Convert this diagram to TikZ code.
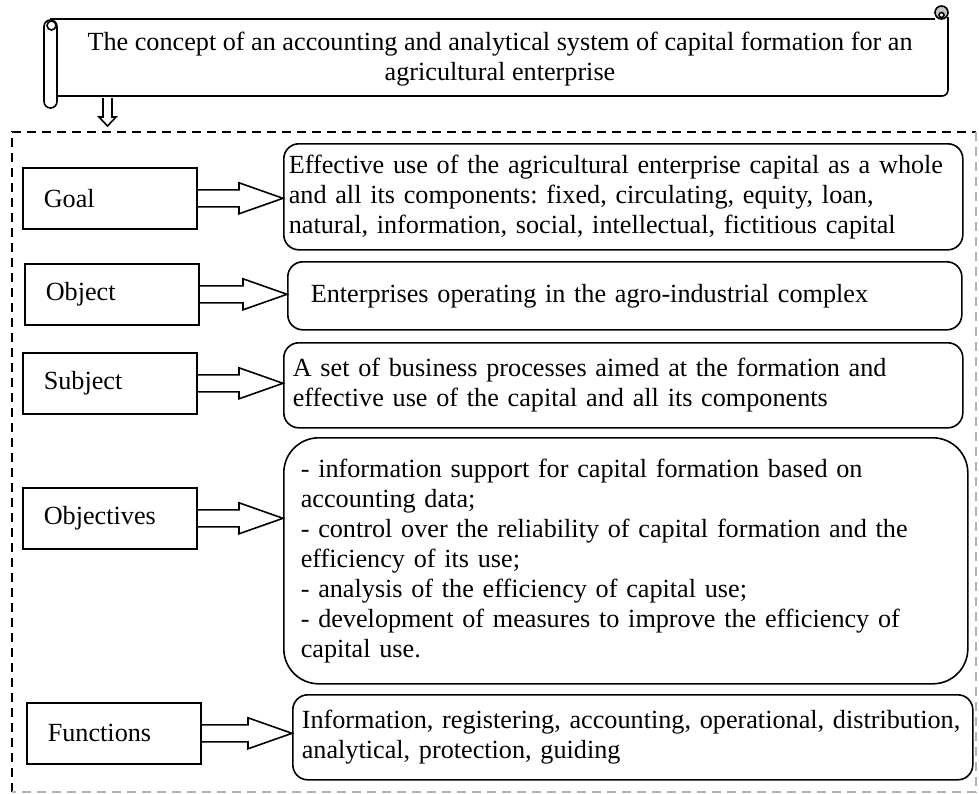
\documentclass[tikz,border=0pt]{standalone}
\usepackage{fontspec}
\setmainfont{Liberation Serif}
\usetikzlibrary{calc}
\frenchspacing
\tikzset{
  ln/.style={line width=1.6pt},
  every node/.style={font=\fontsize{26.2}{30}\selectfont},
  lbox/.style={draw, ln, anchor=north west, minimum width=174pt, minimum height=61pt,
    text width=132pt, inner xsep=21pt, inner ysep=0pt, align=left},
  cbox/.style={draw, ln, rounded corners=15pt, anchor=north west, inner ysep=0pt, align=left},
  barrow/.style={draw, ln, line join=miter},
  frameblack/.style={line width=1.6pt, dash pattern=on 9pt off 6pt},
  framegray/.style={line width=1.6pt, dash pattern=on 9pt off 6pt, draw=gray!60},
}
\newcommand\blockarr[2]{%
  \draw[barrow] let \p1=(#1.east), \p2=(#2.west) in
    (\x1,\y1+8.5pt) -- (\x2-44pt,\y1+8.5pt) -- (\x2-44pt,\y1+15.5pt) -- (\x2,\y1)
    -- (\x2-44pt,\y1-15.5pt) -- (\x2-44pt,\y1-8.5pt) -- (\x1,\y1-8.5pt);}
\begin{document}
\begin{tikzpicture}[x=1pt,y=-1pt]
\useasboundingbox (0,0) rectangle (979,793);

% dashed frame
\draw[frameblack] (12,792) -- (12,132) -- (976,132);
\draw[framegray] (976,132) -- (976,792) -- (12,792);

% scroll title
\node[align=center] (title) at (500,59) {The concept of an accounting and analytical system of capital formation for an\\agricultural enterprise};
\draw[ln] (50,19) -- (935,19);
\draw[ln] (948,17) -- (948,90) arc[start angle=0, end angle=90, radius=6] -- (57,96);
\draw[ln, rounded corners=6.5pt] (44,20) rectangle (57,108);
\draw[ln] (51.5,25.5) circle[radius=4.5];
\draw[ln, fill=gray!45] (941.5,12.5) circle[radius=6.5];
\draw[ln, fill=white] (941.5,15) circle[radius=2.5];

% down arrow
\draw[ln, line join=miter] (103,98) -- (103,117) -- (99,117) -- (107.5,126) -- (116,117) -- (112,117) -- (112,98);

% left boxes
\node[lbox] (goal) at (22,167) {Goal};
\node[lbox] (object) at (24,263) {Object};
\node[lbox] (subject) at (22,352) {Subject};
\node[lbox] (objectives) at (22,487) {Objectives};
\node[lbox] (functions) at (26,702) {Functions};

% content boxes
\node[cbox, minimum width=679pt, minimum height=106pt, inner xsep=5pt, text width=669pt] (goalc) at (283,143)
  {Effective use of the agricultural enterprise capital as a whole\\
   and all its components: fixed, circulating, equity, loan,\\
   natural, information, social, intellectual, fictitious capital};
\node[cbox, minimum width=674pt, minimum height=68pt, inner xsep=23pt, text width=628pt] (objectc) at (287,261)
  {\raisebox{3pt}{Enterprises operating in the agro-industrial complex}};
\node[cbox, minimum width=679pt, minimum height=85pt, inner xsep=9pt, text width=661pt] (subjectc) at (283,342)
  {A set of business processes aimed at the formation and\\
   effective use of the capital and all its components};
\node[cbox, rounded corners=35pt, minimum width=684pt, minimum height=246pt, inner xsep=17pt, text width=650pt] (objectivesc) at (283,437)
  {- information support for capital formation based on\\
   accounting data;\\
   - control over the reliability of capital formation and the\\
   efficiency of its use;\\
   - analysis of the efficiency of capital use;\\
   - development of measures to improve the efficiency of\\
   capital use.};
\node[cbox, minimum width=680pt, minimum height=85pt, inner xsep=9pt, text width=662pt] (functionsc) at (292,694)
  {\mbox{Information, registering, accounting, operational, distribution,}\\
   analytical, protection, guiding};

% block arrows
\blockarr{goal}{goalc}
\blockarr{object}{objectc}
\blockarr{subject}{subjectc}
\blockarr{objectives}{objectivesc}
\blockarr{functions}{functionsc}
\end{tikzpicture}
\end{document}
